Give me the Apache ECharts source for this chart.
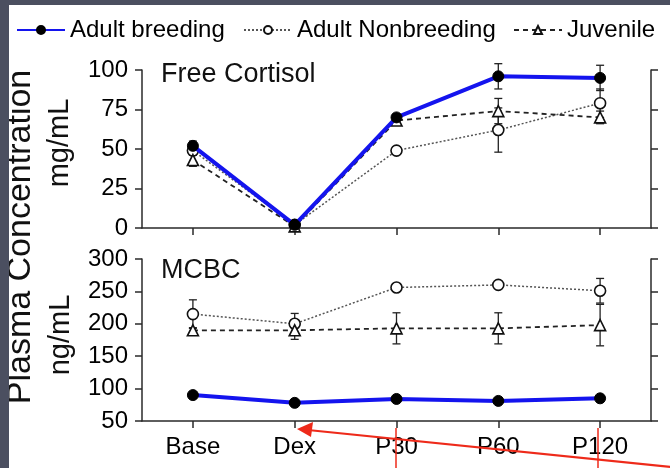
<!DOCTYPE html>
<html>
<head>
<meta charset="utf-8">
<script src="https://cdn.jsdelivr.net/npm/echarts@6/dist/echarts.min.js"></script>
<style>html,body{margin:0;padding:0;background:#fff}#c{width:670px;height:468px}</style>
</head>
<body>
<div id="c"></div>
<script>
// ---- data ----
const categories = ['Base', 'Dex', 'P30', 'P60', 'P120'];
const seriesNames = ['Adult breeding', 'Adult Nonbreeding', 'Juvenile'];

// Free Cortisol (mg/mL)
const cortBreeding = [52, 2, 70, 96, 95];
const cortBreedingErr = [3, 1, 2, 8, 8];
const cortNonbreeding = [49, 2, 49, 62, 79];
const cortNonbreedingErr = [3, 1, 2, 14, 9];
const cortJuvenile = [43, 1, 68, 74, 70];
const cortJuvenileErr = [4, 1, 2, 8, 4];

// MCBC (ng/mL)
const mcbcBreeding = [90, 78, 84, 81, 85];
const mcbcBreedingErr = [4, 4, 3, 3, 4];
const mcbcNonbreeding = [215, 200, 256, 260, 251];
const mcbcNonbreedingErr = [22, 16, 5, 5, 19];
const mcbcJuvenile = [190, 190, 193, 193, 198];
const mcbcJuvenileErr = [4, 14, 24, 24, 32];

const cortTicks = [0, 25, 50, 75, 100];
const mcbcTicks = [50, 100, 150, 200, 250, 300];

// ---- chart ----
const FONT = '"Liberation Sans", Arial, Helvetica, sans-serif';
const AX = '#2a2a2a';

function errData(vals, errs) { return vals.map((v, i) => [i, v, errs[i]]); }
function errRender(params, api) {
  const x = api.value(0), v = api.value(1), e = api.value(2);
  const hi = api.coord([x, v + e]), lo = api.coord([x, v - e]);
  const w = 4, st = { stroke: '#222', lineWidth: 1.3 };
  return { type: 'group', children: [
    { type: 'line', shape: { x1: hi[0], y1: hi[1], x2: lo[0], y2: lo[1] }, style: st },
    { type: 'line', shape: { x1: hi[0] - w, y1: hi[1], x2: hi[0] + w, y2: hi[1] }, style: st },
    { type: 'line', shape: { x1: lo[0] - w, y1: lo[1], x2: lo[0] + w, y2: lo[1] }, style: st }
  ]};
}

const styles = {
  'Adult breeding': { symbol: 'circle', symbolSize: 11, itemStyle: { color: '#000', borderColor: '#000', borderWidth: 1 },
    lineStyle: { color: '#1414ee', width: 4 }, z: 5 },
  'Adult Nonbreeding': { symbol: 'circle', symbolSize: 11, itemStyle: { color: '#fff', borderColor: '#111', borderWidth: 1.6 },
    lineStyle: { color: '#555', width: 1.5, type: [2, 2] }, z: 3 },
  'Juvenile': { symbol: 'triangle', symbolSize: 11, itemStyle: { color: '#fff', borderColor: '#111', borderWidth: 1.6 },
    lineStyle: { color: '#222', width: 1.8, type: [5, 4] }, z: 4 }
};

function lineSeries(name, data, idx) {
  const s = styles[name];
  return { type: 'line', name: name, data: data, xAxisIndex: idx, yAxisIndex: idx * 2,
    symbol: s.symbol, symbolSize: s.symbolSize, showAllSymbol: true, itemStyle: s.itemStyle,
    lineStyle: s.lineStyle, z: s.z, animation: false, emphasis: { disabled: true } };
}
function errSeries(name, vals, errs, idx) {
  return { type: 'custom', name: name + ' err ' + idx, xAxisIndex: idx, yAxisIndex: idx * 2,
    data: errData(vals, errs), renderItem: errRender, z: 2, animation: false, silent: true };
}

const grids = [
  { left: 142, right: 19, top: 70, height: 158 },
  { left: 142, right: 19, top: 259, height: 162 }
];

function xAxis(idx, showLabels) {
  return { type: 'category', data: categories, gridIndex: idx, boundaryGap: true,
    axisLine: { lineStyle: { color: AX, width: 1.5 } },
    axisTick: { show: true, alignWithLabel: true, length: 7, lineStyle: { color: AX, width: 1.5 } },
    axisLabel: { show: showLabels, color: '#000', fontSize: 24, fontFamily: FONT, margin: 14 },
    splitLine: { show: false } };
}
function yAxes(idx, min, max, interval) {
  const common = { type: 'value', gridIndex: idx, min: min, max: max, interval: interval,
    axisLine: { show: true, lineStyle: { color: AX, width: 1.5 } },
    axisTick: { show: true, length: 7, lineStyle: { color: AX, width: 1.5 } },
    splitLine: { show: false } };
  return [
    Object.assign({}, common, { position: 'left',
      axisLabel: { color: '#000', fontSize: 24, fontFamily: FONT, margin: 14 } }),
    Object.assign({}, common, { position: 'right', axisLabel: { show: false } })
  ];
}

const legendLefts = [11, 238, 508];
const legends = seriesNames.map((n, i) => ({
  data: [n], left: legendLefts[i], top: 13, itemWidth: 48, itemHeight: 10, itemGap: 0,
  textStyle: { color: '#000', fontSize: 24, fontFamily: FONT },
  selectedMode: false
}));

const option = {
  backgroundColor: '#fff',
  animation: false,
  legend: legends,
  grid: grids,
  xAxis: [xAxis(0, false), xAxis(1, true)],
  yAxis: [].concat(yAxes(0, cortTicks[0], cortTicks[cortTicks.length - 1], 25),
                   yAxes(1, mcbcTicks[0], mcbcTicks[mcbcTicks.length - 1], 50)),
  series: [
    errSeries('Adult breeding', cortBreeding, cortBreedingErr, 0),
    errSeries('Adult Nonbreeding', cortNonbreeding, cortNonbreedingErr, 0),
    errSeries('Juvenile', cortJuvenile, cortJuvenileErr, 0),
    errSeries('Adult breeding', mcbcBreeding, mcbcBreedingErr, 1),
    errSeries('Adult Nonbreeding', mcbcNonbreeding, mcbcNonbreedingErr, 1),
    errSeries('Juvenile', mcbcJuvenile, mcbcJuvenileErr, 1),
    lineSeries('Adult Nonbreeding', cortNonbreeding, 0),
    lineSeries('Juvenile', cortJuvenile, 0),
    lineSeries('Adult breeding', cortBreeding, 0),
    lineSeries('Adult Nonbreeding', mcbcNonbreeding, 1),
    lineSeries('Juvenile', mcbcJuvenile, 1),
    lineSeries('Adult breeding', mcbcBreeding, 1)
  ],
  graphic: [
    { type: 'rect', shape: { x: 0, y: 0, width: 670, height: 5 }, style: { fill: '#4b4f60' }, z: 100 },
    { type: 'rect', shape: { x: 0, y: 0, width: 9, height: 468 }, style: { fill: '#4b4f60' }, z: 100 },
    { type: 'text', x: 161, y: 75, style: { text: 'Free Cortisol', fill: '#111', font: '27px ' + FONT, textVerticalAlign: 'middle' }, z: 50 },
    { type: 'text', x: 161, y: 271, style: { text: 'MCBC', fill: '#111', font: '27px ' + FONT, textVerticalAlign: 'middle' }, z: 50 },
    { type: 'text', x: 60, y: 143, rotation: Math.PI / 2, style: { text: 'mg/mL', fill: '#111', font: '29px ' + FONT, textAlign: 'center', textVerticalAlign: 'middle' }, z: 50 },
    { type: 'text', x: 61, y: 335, rotation: Math.PI / 2, style: { text: 'ng/mL', fill: '#111', font: '29px ' + FONT, textAlign: 'center', textVerticalAlign: 'middle' }, z: 50 },
    { type: 'text', x: 21, y: 237, rotation: Math.PI / 2, style: { text: 'Plasma Concentration', fill: '#111', font: '34px ' + FONT, textAlign: 'center', textVerticalAlign: 'middle' }, z: 50 },
    { type: 'line', shape: { x1: 396, y1: 428, x2: 396, y2: 468 }, style: { stroke: '#ee2a1a', lineWidth: 1.5 }, z: 60 },
    { type: 'line', shape: { x1: 598, y1: 428, x2: 598, y2: 468 }, style: { stroke: '#ee2a1a', lineWidth: 1.5 }, z: 60 },
    { type: 'line', shape: { x1: 672, y1: 467, x2: 308, y2: 430 }, style: { stroke: '#ee2a1a', lineWidth: 2.2 }, z: 60 },
    { type: 'polygon', shape: { points: [[297, 429], [313, 422], [311, 437]] }, style: { fill: '#ee2a1a' }, z: 60 }
  ]
};

const chart = echarts.init(document.getElementById('c'), null, { renderer: 'canvas' });
chart.setOption(option);
</script>
</body>
</html>
